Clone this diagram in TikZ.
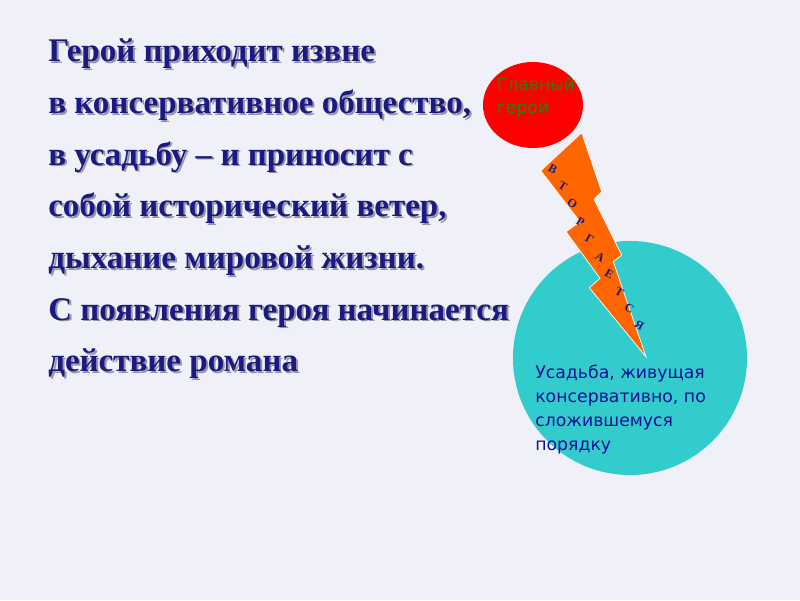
\documentclass[tikz,border=0pt]{standalone}
\usepackage{fontspec}
\setmainfont{Liberation Serif}
\newfontfamily\labelfont{DejaVu Sans}
\usepackage{tikz}
\usetikzlibrary{shapes}

\definecolor{pagebg}{RGB}{240,240,248}
\definecolor{navytext}{RGB}{26,26,128}
\definecolor{shadowgrey}{RGB}{150,150,170}
\definecolor{herogreen}{RGB}{50,125,10}
\definecolor{estateteal}{RGB}{51,204,204}
\definecolor{boltorange}{RGB}{255,102,0}
\definecolor{estateblue}{RGB}{16,16,150}

\newcommand{\shtext}[1]{\rlap{\kern1.4pt\raisebox{-1.4pt}{\textcolor{shadowgrey}{#1}}}#1}

\tikzset{
  mainline/.style={anchor=base west, inner sep=0pt, text=navytext,
    font=\fontsize{23.5}{26}\selectfont\bfseries},
  letter/.style={inner sep=0pt, text=navytext, rotate=-30,
    font=\fontsize{8.5}{9}\selectfont\bfseries},
  bolt/.style={fill=boltorange, draw=white, line width=0.5pt, line join=miter}
}

\begin{document}
\begin{tikzpicture}[x=0.025cm,y=-0.025cm]

\fill [pagebg] (0,0) rectangle (800,600);
\useasboundingbox (0,0) rectangle (800,600);

% text on the left
\node [mainline] (l1) at (48, 61.7) {\shtext{Герой приходит извне}};
\node [mainline] (l2) at (48, 113.3) {\shtext{в консервативное общество,}};
\node [mainline] (l3) at (48, 165) {\shtext{в усадьбу -- и приносит с}};
\node [mainline] (l4) at (48, 216.7) {\shtext{собой исторический ветер,}};
\node [mainline] (l5) at (48, 268.3) {\shtext{дыхание мировой жизни.}};
\node [mainline] (l6) at (48, 320) {\shtext{С появления героя начинается}};
\node [mainline] (l7) at (48, 371.7) {\shtext{действие романа}};

% hero and estate
\node [ellipse, fill=red, minimum width=2.5cm, minimum height=2.15cm, inner sep=0pt] (hero) at (533, 105) {};
\node [anchor=base west, inner sep=0pt, align=left, text=herogreen,
  font=\labelfont\fontsize{12.2}{16}\selectfont] (herotext) at (496.7, 113.3) {Главный\\герой};

\node [circle, fill=estateteal, minimum size=5.85cm, inner sep=0pt] (estate) at (630, 358) {};
\node [anchor=base west, inner sep=0pt, align=left, text=estateblue,
  font=\labelfont\fontsize{12.3}{17}\selectfont] (estatetext) at (535, 450)
  {Усадьба, живущая\\консервативно, по\\сложившемуся\\порядку};

% lightning
\draw [bolt] (540.7,170.7) -- (581.7,132.7) -- (601.7,191.7) -- (594,199.3)
  -- (621.7,255) -- (613.3,261.7) -- (646,356.7) -- (589.3,287.7)
  -- (600,278.3) -- (566,231.7) -- (580,221.7) -- cycle;

\node [letter] (b1) at (552.7, 169) {В};
\node [letter] (b2) at (562.7, 185.7) {Т};
\node [letter] (b3) at (572.3, 203.3) {О};
\node [letter] (b4) at (580.5, 222) {Р};
\node [letter] (b5) at (589.5, 239) {Г};
\node [letter] (b6) at (600, 257) {А};
\node [letter] (b7) at (609.3, 274.3) {Е};
\node [letter] (b8) at (619.3, 291.7) {Т};
\node [letter] (b9) at (629.3, 308.3) {С};
\node [letter] (b10) at (639.3, 325) {Я};

\end{tikzpicture}
\end{document}
